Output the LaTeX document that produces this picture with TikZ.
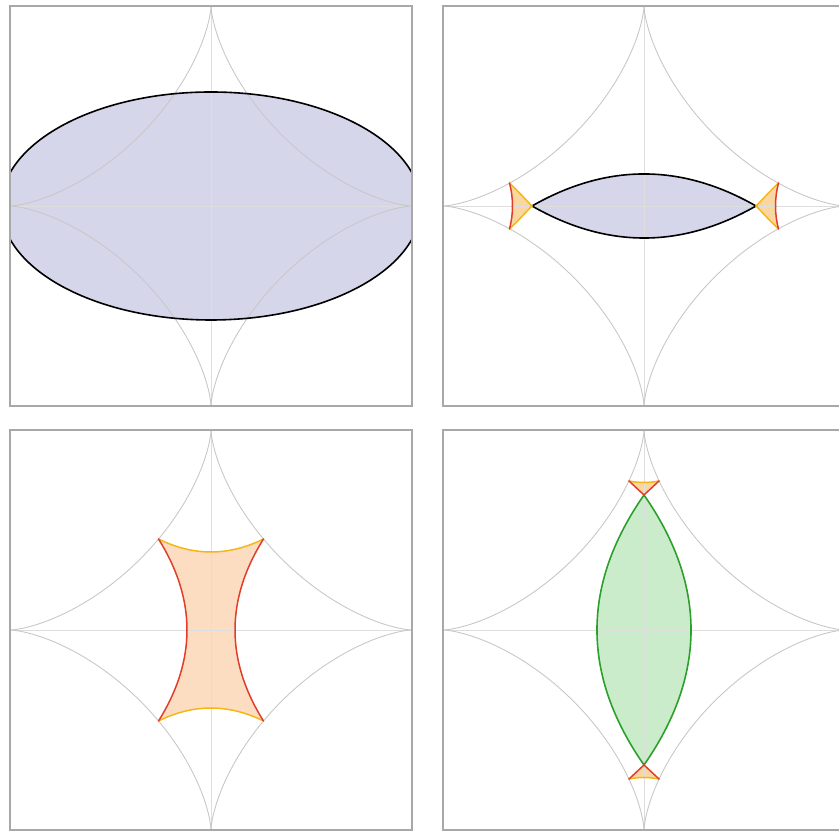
\documentclass[tikz,border=0pt]{standalone}
\definecolor{purplefill}{RGB}{214,214,235}
\definecolor{peachfill}{RGB}{252,221,194}
\definecolor{trifill}{RGB}{250,214,160}
\definecolor{greenfill}{RGB}{202,236,202}
\definecolor{redline}{RGB}{224,62,42}
\definecolor{orangeline}{RGB}{246,182,22}
\definecolor{greenline}{RGB}{44,160,44}
\definecolor{gridgrey}{RGB}{222,222,222}
\definecolor{astgrey}{RGB}{200,200,200}
\definecolor{framegrey}{RGB}{168,168,168}
\tikzset{
  gridline/.style={draw=gridgrey, line width=0.7pt},
  astline/.style={draw=astgrey, line width=0.9pt},
  frameline/.style={draw=framegrey, line width=1.4pt},
  blackline/.style={draw=black, line width=1.6pt},
  redcurve/.style={draw=redline, line width=1.5pt, line cap=round},
  orangecurve/.style={draw=orangeline, line width=1.5pt, line cap=round},
  greencurve/.style={draw=greenline, line width=1.6pt},
}
\newcommand{\astgrid}{%
  \draw[gridline] (-201,0) -- (201,0);
  \draw[gridline] (0,-200) -- (0,200);
  \draw[astline] plot[domain=0:360,samples=361,variable=\t]
    ({201*cos(\t)*cos(\t)*cos(\t)},{200*sin(\t)*sin(\t)*sin(\t)}) -- cycle;
}
\newcommand{\panelframe}{\draw[frameline] (-201,-200) rectangle (201,200);}
\begin{document}
\begin{tikzpicture}[x=1pt,y=1pt]
\useasboundingbox (0,0) rectangle (839,832);
\clip (0,0) rectangle (839,832);

% ---------- top left ----------
\begin{scope}[shift={(211,626)}]
  \begin{scope}
    \clip (-201,-200) rectangle (201,200);
    \fill[purplefill] (0,0) ellipse [x radius=210, y radius=114];
    \astgrid
    \draw[blackline] (0,0) ellipse [x radius=210, y radius=114];
  \end{scope}
  \panelframe
\end{scope}

% ---------- top right ----------
\begin{scope}[shift={(644,626)}]
  \fill[purplefill] (-112,0) .. controls (-37.3,42.7) and (37.3,42.7) .. (112,0)
        .. controls (37.3,-42.7) and (-37.3,-42.7) .. cycle;
  \foreach \s in {1,-1}{
    \fill[trifill] (\s*-134.5,23) .. controls (\s*-130.5,7.7) and (\s*-130.5,-7.7) .. (\s*-134.5,-23)
        .. controls (\s*-124,-13) and (\s*-119,-7) .. (\s*-112,0)
        .. controls (\s*-119,7) and (\s*-124,13) .. cycle;
  }
  \astgrid
  \draw[blackline] (-112,0) .. controls (-37.3,42.7) and (37.3,42.7) .. (112,0)
        .. controls (37.3,-42.7) and (-37.3,-42.7) .. cycle;
  \foreach \s in {1,-1}{
    \draw[orangecurve] (\s*-134.5,-23) .. controls (\s*-124,-13) and (\s*-119,-7) .. (\s*-112,0)
        .. controls (\s*-119,7) and (\s*-124,13) .. (\s*-134.5,23);
    \draw[redcurve] (\s*-134.5,23) .. controls (\s*-130.5,7.7) and (\s*-130.5,-7.7) .. (\s*-134.5,-23);
  }
  \panelframe
\end{scope}

% ---------- bottom left ----------
\begin{scope}[shift={(211,202)}]
  \fill[peachfill] (-52.5,91) .. controls (-17.5,73.7) and (17.5,73.7) .. (52.5,91)
      .. controls (14.5,30.3) and (14.5,-30.3) .. (52.5,-91)
      .. controls (17.5,-73.7) and (-17.5,-73.7) .. (-52.5,-91)
      .. controls (-14.5,-30.3) and (-14.5,30.3) .. cycle;
  \astgrid
  \draw[orangecurve] (-52.5,91) .. controls (-17.5,73.7) and (17.5,73.7) .. (52.5,91);
  \draw[orangecurve] (52.5,-91) .. controls (17.5,-73.7) and (-17.5,-73.7) .. (-52.5,-91);
  \draw[redcurve] (52.5,91) .. controls (14.5,30.3) and (14.5,-30.3) .. (52.5,-91);
  \draw[redcurve] (-52.5,-91) .. controls (-14.5,-30.3) and (-14.5,30.3) .. (-52.5,91);
  \panelframe
\end{scope}

% ---------- bottom right ----------
\begin{scope}[shift={(644,202)}]
  \fill[greenfill] (0,135) .. controls (62.7,45) and (62.7,-45) .. (0,-135)
      .. controls (-62.7,-45) and (-62.7,45) .. cycle;
  \foreach \s in {1,-1}{
    \fill[trifill] (0,\s*135) -- (15,\s*149)
      .. controls (5,\s*147) and (-5,\s*147) .. (-15,\s*149) -- cycle;
  }
  \astgrid
  \draw[greencurve] (0,135) .. controls (62.7,45) and (62.7,-45) .. (0,-135)
      .. controls (-62.7,-45) and (-62.7,45) .. cycle;
  \foreach \s in {1,-1}{
    \draw[orangecurve] (15,\s*149) .. controls (5,\s*147) and (-5,\s*147) .. (-15,\s*149);
    \draw[redcurve] (-15,\s*149) -- (0,\s*135) -- (15,\s*149);
  }
  \panelframe
\end{scope}
\end{tikzpicture}
\end{document}
